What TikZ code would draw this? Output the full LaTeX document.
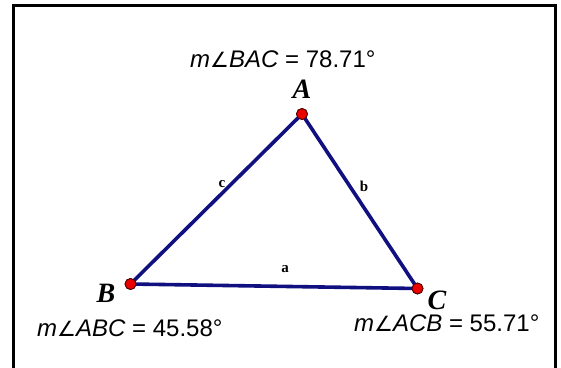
\documentclass[tikz,border=0pt]{standalone}
\usepackage{fontspec}
\setmainfont{Liberation Sans}
\newfontfamily\serifbf{Liberation Serif}
\newfontfamily\angfont{DejaVu Sans}
\definecolor{navy}{RGB}{16,16,128}
\definecolor{ptred}{RGB}{235,0,0}
\tikzset{
  frameline/.style={line width=3pt, black},
  side/.style={line width=3.6pt, navy, line cap=round},
  vertex/.style={circle, fill=ptred, draw=black!70!red, line width=0.8pt, minimum size=11pt, inner sep=0pt},
  vlabel/.style={font=\serifbf\bfseries\itshape\fontsize{28}{28}\selectfont, inner sep=0pt},
  slabel/.style={font=\serifbf\bfseries\fontsize{15}{15}\selectfont, inner sep=0pt},
  measure/.style={font=\fontsize{24}{26}\selectfont, inner sep=0pt, anchor=base west},
}
\newcommand{\angm}[1]{\textit{m}{\angfont\fontsize{21}{24}\selectfont ∠}\textit{#1}}
\begin{document}
\begin{tikzpicture}[x=1pt, y=-1pt]
\useasboundingbox (0,0) rectangle (561,367);
\draw[frameline] (13,368) -- (13,5) -- (555,5) -- (555,368);
\node[vertex] (A) at (302,114) {};
\node[vertex] (B) at (130.5,284) {};
\node[vertex] (C) at (417.5,288.5) {};
\draw[side] (A.center) -- (B.center) -- (C.center) -- cycle;
\node[vertex] at (A) {};
\node[vertex] at (B) {};
\node[vertex] at (C) {};
\node[vlabel] (lA) at (302,89) {A};
\node[vlabel] (lB) at (106,293) {B};
\node[vlabel] (lC) at (437,300) {C};
\node[slabel] (la) at (285,269) {a};
\node[slabel] (lb) at (364,186) {b};
\node[slabel] (lc) at (222,184) {c};
\node[measure] (mA) at (190,67) {\angm{BAC} = 78.71°};
\node[measure] (mB) at (37,336) {\angm{ABC} = 45.58°};
\node[measure] (mC) at (354,331) {\angm{ACB} = 55.71°};
\end{tikzpicture}
\end{document}
